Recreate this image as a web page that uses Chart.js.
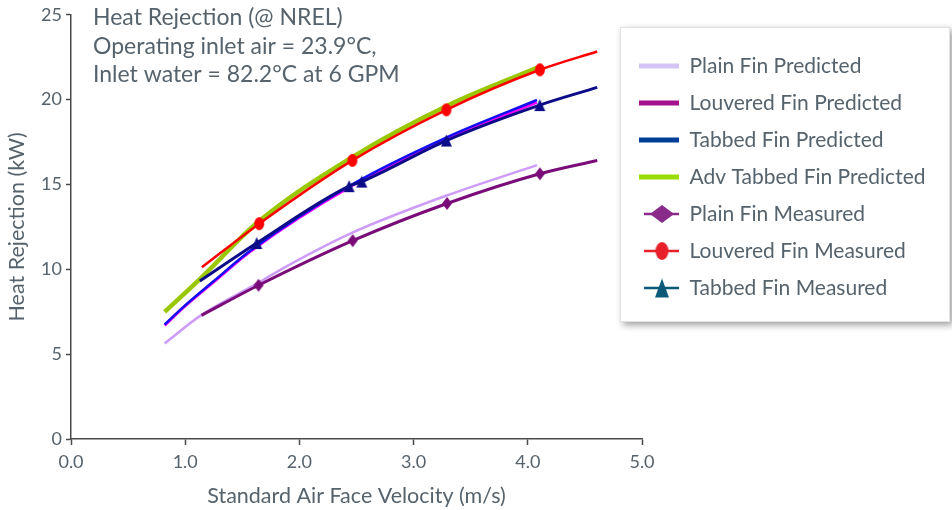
<!DOCTYPE html>
<html>
<head>
<meta charset="utf-8">
<script src="https://cdn.jsdelivr.net/npm/chart.js@4.4.1/dist/chart.umd.min.js"></script>
<style>
html,body{margin:0;padding:0;background:#ffffff;}
#wrap{width:952px;height:510px;position:relative;}
</style>
</head>
<body>
<div id="wrap"><canvas id="c"></canvas></div>
<script>
// ---------- data ----------
const seriesLabels = [
  'Plain Fin Predicted', 'Louvered Fin Predicted', 'Tabbed Fin Predicted', 'Adv Tabbed Fin Predicted',
  'Plain Fin Measured', 'Louvered Fin Measured', 'Tabbed Fin Measured'
];
const plainPredX    = [0.82, 1.14, 1.64, 1.84, 2.46, 3.29, 4.08];
const plainPredY    = [5.63, 7.30, 9.20, 10.0, 12.15, 14.35, 16.14];
const louvPredX     = [0.82, 0.99, 1.24, 1.575, 2.46, 3.29, 4.08];
const louvPredY     = [6.70, 7.78, 9.20, 11.08, 14.93, 17.68, 19.84];
const tabPredX      = [0.82, 0.99, 1.24, 1.575, 2.46, 3.29, 4.08];
const tabPredY      = [6.75, 7.82, 9.25, 11.12, 15.00, 17.78, 19.98];
const advPredX      = [0.82, 1.14, 1.64, 2.46, 3.29, 4.08];
const advPredY      = [7.49, 9.50, 12.80, 16.60, 19.63, 21.88];
const plainMeasX    = [1.143, 1.642, 2.467, 3.293, 4.106, 4.608];
const plainMeasY    = [7.29, 9.06, 11.69, 13.88, 15.63, 16.41];
const louvMeasX     = [1.146, 1.648, 2.464, 3.287, 4.106, 4.608];
const louvMeasY     = [10.12, 12.69, 16.42, 19.40, 21.76, 22.84];
const tabMeasX      = [1.128, 1.627, 2.435, 2.546, 3.287, 4.105, 4.608];
const tabMeasY      = [9.31, 11.55, 14.90, 15.17, 17.59, 19.68, 20.72];
const xTickLabels   = ['0.0', '1.0', '2.0', '3.0', '4.0', '5.0'];
const yTickLabels   = ['0', '5', '10', '15', '20', '25'];
const titleLines    = ['Heat Rejection (@ NREL)', 'Operating inlet air = 23.9°C,', 'Inlet water = 82.2°C at 6 GPM'];
const xAxisTitle    = 'Standard Air Face Velocity (m/s)';
const yAxisTitle    = 'Heat Rejection (kW)';

// ---------- styles ----------
const FONT = 'Lato';
const TEXT = '#56636d';
const AXIS = '#4a4a4a';

function toXY(xs, ys){ return xs.map((x,i)=>({x:x, y:ys[i]})); }
function markerRadii(xs){ return xs.map((_,i)=> (i===0 || i===xs.length-1) ? 0 : 6); }

function makeMarker(shape, color, w, h){
  const c = document.createElement('canvas');
  c.width = w + 2; c.height = h + 2;
  const g = c.getContext('2d');
  const cx = c.width/2, cy = c.height/2;
  g.fillStyle = color;
  g.beginPath();
  if (shape === 'diamond'){
    g.moveTo(cx, cy - h/2); g.lineTo(cx + w/2, cy); g.lineTo(cx, cy + h/2); g.lineTo(cx - w/2, cy); g.closePath();
  } else if (shape === 'ellipse'){
    g.ellipse(cx, cy, w/2, h/2, 0, 0, Math.PI*2);
  } else {
    g.moveTo(cx, cy - h/2); g.lineTo(cx + w/2, cy + h/2); g.lineTo(cx - w/2, cy + h/2); g.closePath();
  }
  g.fill();
  return c;
}

function makeLegendImg(color, marker){
  const c = document.createElement('canvas');
  c.width = 40; c.height = 22;
  const g = c.getContext('2d');
  if (!marker){
    g.strokeStyle = color; g.lineWidth = 5;
    g.beginPath(); g.moveTo(0, 11); g.lineTo(40, 11); g.stroke();
  } else {
    g.strokeStyle = color; g.lineWidth = 2.5;
    g.beginPath(); g.moveTo(5, 11); g.lineTo(40, 11); g.stroke();
    g.drawImage(marker, 23 - marker.width/2, 11 - marker.height/2);
  }
  return c;
}

const plotColors = ['#cc9cf7', '#ff00ff', '#1010f0', '#99c800', '#7a0c7a', '#ff0000', '#0c0c88'];
const plotWidths = [2.5, 3, 2.5, 4.5, 3, 2.5, 3];
const plotOrder  = [10, 9, 8, 7, 3, 1, 2];
const plotMarkers = [null, null, null, null,
  makeMarker('diamond', '#7a0c7a', 10, 13),
  makeMarker('ellipse', '#ff0000', 10, 13),
  makeMarker('triangle', '#0c0c88', 11, 12)];
const legendColors = ['#d4c4f6', '#a3118f', '#003f98', '#99dc00', '#8a2a8a', '#e8202a', '#0b5978'];
const legendMarkers = [null, null, null, null,
  makeMarker('diamond', '#8a2a8a', 24, 18),
  makeMarker('ellipse', '#e8202a', 13, 18),
  makeMarker('triangle', '#0b5978', 14, 19)];
const legendImgs = legendColors.map((c,i)=> makeLegendImg(c, legendMarkers[i]));

const seriesX = [plainPredX, louvPredX, tabPredX, advPredX, plainMeasX, louvMeasX, tabMeasX];
const seriesY = [plainPredY, louvPredY, tabPredY, advPredY, plainMeasY, louvMeasY, tabMeasY];

const datasets = seriesLabels.map((label, i) => ({
  label: label,
  data: toXY(seriesX[i], seriesY[i]),
  borderColor: plotColors[i],
  backgroundColor: plotColors[i],
  borderWidth: plotWidths[i],
  showLine: true,
  fill: false,
  cubicInterpolationMode: 'monotone',
  order: plotOrder[i],
  pointStyle: plotMarkers[i] || 'circle',
  pointRadius: plotMarkers[i] ? markerRadii(seriesX[i]) : 0,
  pointHoverRadius: 0,
  borderCapStyle: 'butt'
}));

const legendBoxPlugin = {
  id: 'legendBox',
  beforeDraw(chart){
    const L = chart.legend;
    if (L){
      L.left = 623; L.top = 39.5; L.width = 327; L.height = 320;
      L.right = L.left + L.width; L.bottom = L.top + L.height;
    }
    const ctx = chart.ctx;
    ctx.save();
    ctx.fillStyle = '#ffffff';
    ctx.fillRect(0, 0, chart.width, chart.height);
    ctx.shadowColor = 'rgba(0,0,0,0.38)';
    ctx.shadowBlur = 7;
    ctx.shadowOffsetX = 3;
    ctx.shadowOffsetY = 3;
    ctx.fillRect(620, 27, 330, 295);
    ctx.restore();
    ctx.save();
    ctx.strokeStyle = '#e2e2e2';
    ctx.lineWidth = 1;
    ctx.strokeRect(620.5, 27.5, 329, 294);
    ctx.restore();
  },
  afterDraw(chart){
    const ctx = chart.ctx;
    ctx.save();
    ctx.fillStyle = TEXT;
    ctx.font = '23px ' + FONT;
    ctx.textBaseline = 'alphabetic';
    ctx.textAlign = 'left';
    const base = [25, 53.5, 82];
    titleLines.forEach((t, i) => ctx.fillText(t, 93, base[i]));
    ctx.restore();
  }
};

new Chart(document.getElementById('c'), {
  type: 'scatter',
  data: { datasets: datasets },
  plugins: [legendBoxPlugin],
  options: {
    responsive: true,
    maintainAspectRatio: false,
    animation: false,
    events: [],
    layout: { padding: { top: 12, right: 310, left: 0, bottom: 0 } },
    plugins: {
      tooltip: { enabled: false },
      legend: {
        display: true,
        position: 'chartArea',
        align: 'start',
        labels: {
          usePointStyle: true,
          pointStyleWidth: 40,
          padding: 16,
          color: TEXT,
          font: { family: FONT, size: 21 },
          generateLabels(chart){
            return chart.data.datasets.map((ds, i) => ({
              text: ds.label,
              pointStyle: legendImgs[i],
              fillStyle: legendColors[i],
              strokeStyle: legendColors[i],
              lineWidth: 0,
              fontColor: TEXT,
              hidden: false,
              datasetIndex: i
            }));
          }
        }
      }
    },
    scales: {
      x: {
        type: 'linear', min: 0, max: 5, position: 'bottom',
        afterFit(s){ s.height = 71; },
        afterBuildTicks(s){ s.ticks = xTickLabels.map(v => ({ value: parseFloat(v) })); },
        ticks: {
          callback: (v, i) => xTickLabels[i],
          color: TEXT, font: { family: FONT, size: 18 }, padding: 6, maxRotation: 0, autoSkip: false
        },
        grid: { drawOnChartArea: false, drawTicks: true, tickLength: 6, tickColor: AXIS, tickWidth: 1.5 },
        border: { display: true, color: AXIS, width: 1.5 },
        title: { display: true, text: xAxisTitle, color: TEXT, font: { family: FONT, size: 21.5 }, padding: { top: 0, bottom: 1 } }
      },
      y: {
        type: 'linear', min: 0, max: 25,
        afterFit(s){ s.width = 71; },
        afterBuildTicks(s){ s.ticks = yTickLabels.map(v => ({ value: parseFloat(v) })); },
        ticks: {
          callback: (v, i) => yTickLabels[i],
          color: TEXT, font: { family: FONT, size: 18 }, padding: 4, autoSkip: false
        },
        grid: { drawOnChartArea: false, drawTicks: true, tickLength: 5, tickColor: AXIS, tickWidth: 1.5 },
        border: { display: true, color: AXIS, width: 1.5 },
        title: { display: true, text: yAxisTitle, color: TEXT, font: { family: FONT, size: 21.5 }, padding: { top: 4, bottom: 0 } }
      }
    }
  }
});
</script>
</body>
</html>
